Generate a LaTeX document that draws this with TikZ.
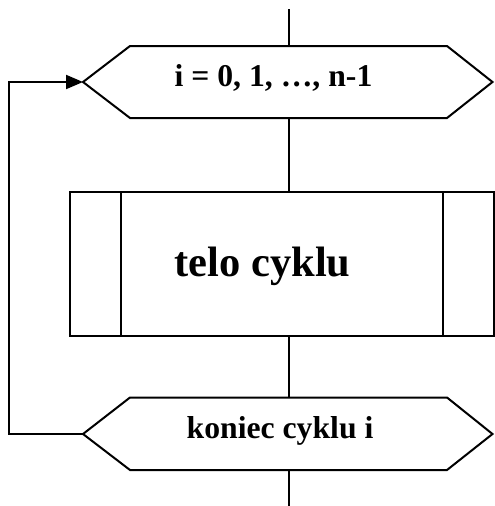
\documentclass[tikz,border=0pt]{standalone}
\usepackage{fontspec}
\setmainfont{Liberation Serif}
\usetikzlibrary{arrows.meta}
\begin{document}
\begin{tikzpicture}[x=1pt,y=-1pt,line width=2pt,
  outline/.style={draw=black,line join=miter},
  lbl/.style={anchor=base,inner sep=0pt,font=\bfseries\fontsize{31.7}{38}\selectfont},
  big/.style={anchor=base,inner sep=0pt,font=\bfseries\fontsize{42.5}{50}\selectfont},
  flow/.style={draw=black},
  back/.style={draw=black,-{Triangle[length=17pt,width=14pt]}}]
\useasboundingbox (0,0) rectangle (495,506);
\coordinate (top) at (288.5,9);
\coordinate (bot) at (288.5,506);
% top hexagon
\coordinate (h1L) at (83,82);
\coordinate (h1T) at (288.5,46);
\coordinate (h1B) at (288.5,118);
\coordinate (h1R) at (492.5,82);
\draw[outline] (h1L) -- (130,46) -- (447,46) -- (h1R) -- (447,118) -- (130,118) -- cycle;
\node[lbl] (cond) at (273.5,86.5) {i = 0, 1, …, n-1};
% body
\coordinate (bodyT) at (288.5,192);
\coordinate (bodyB) at (288.5,336);
\draw[outline] (70,192) rectangle (493.5,336);
\draw[outline] (121,192) -- (121,336);
\draw[outline] (443,192) -- (443,336);
\node[big] (body) at (262.5,276) {telo cyklu};
% bottom hexagon
\coordinate (h2L) at (83,434);
\coordinate (h2T) at (288.5,397.5);
\coordinate (h2B) at (288.5,470);
\draw[outline] (h2L) -- (130,397.5) -- (447,397.5) -- (492.5,434) -- (447,470) -- (130,470) -- cycle;
\node[lbl] (end) at (280,438) {koniec cyklu i};
% connectors
\draw[flow] (top) -- (h1T);
\draw[flow] (h1B) -- (bodyT);
\draw[flow] (bodyB) -- (h2T);
\draw[flow] (h2B) -- (bot);
\coordinate (c1) at (9,434);
\coordinate (c2) at (9,82);
\draw[back] (h2L) -- (c1) -- (c2) -- (h1L);
\end{tikzpicture}
\end{document}
